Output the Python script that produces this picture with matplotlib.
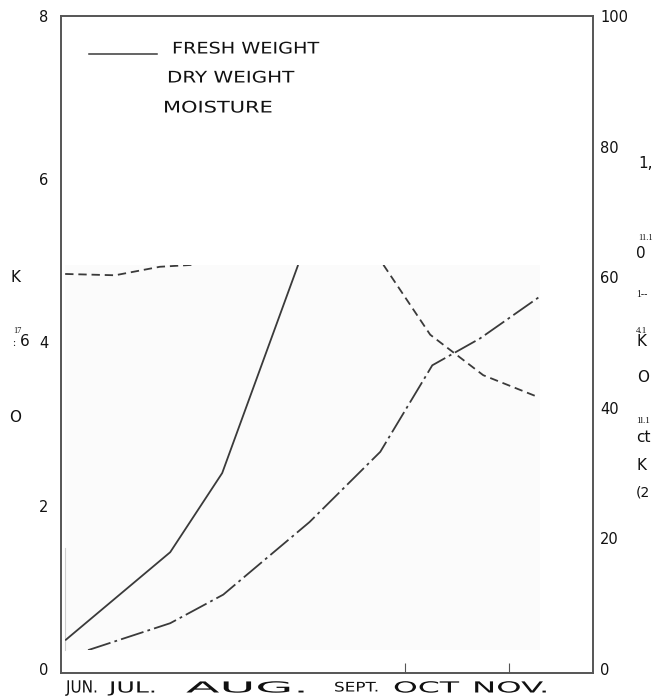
import matplotlib
matplotlib.use("Agg")
import numpy as np
import matplotlib.pyplot as plt
from matplotlib.patches import Rectangle
from matplotlib.patheffects import AbstractPathEffect
from matplotlib.transforms import Affine2D

# ---------------- data (x in months from start of June) ----------------
fresh_x = [0.04, 1.05, 1.55, 2.28]
fresh_y = [0.35, 1.43, 2.40, 4.95]

dry_x = [0.26, 1.05, 1.56, 2.39, 3.07, 3.57, 4.03, 4.59]
dry_y = [0.23, 0.56, 0.91, 1.80, 2.66, 3.72, 4.05, 4.55]

moist_x = [0.04, 0.52, 0.95, 1.27, np.nan, 3.10, 3.55, 4.06, 4.58]
moist_y = [60.5, 60.3, 61.6, 61.9, np.nan, 61.9, 51.2, 45.0, 41.7]

left_ticks = [0, 2, 4, 6, 8]
left_inner_ticks = [2, 4]
right_ticks = [0, 20, 40, 60, 80, 100]
x_inner_ticks = [3.31, 4.31]
months = ["JUN.", "JUL.", "AUG.", "SEPT.", "OCT", "NOV."]
legend_labels = ["FRESH WEIGHT", "DRY WEIGHT", "MOISTURE"]

W, H = 660, 698
plt.rcParams['lines.scale_dashes'] = False
plt.rcParams['font.family'] = ['DejaVu Sans']

LC = '#3a3a3a'
SC = '#555555'


class Stretch(AbstractPathEffect):
    def __init__(self, sx=1.0, sy=1.0):
        super().__init__()
        self.sx, self.sy = sx, sy

    def draw_path(self, renderer, gc, tpath, affine, rgbFace=None):
        renderer.draw_path(gc, tpath, Affine2D().scale(self.sx, self.sy) + affine, rgbFace)


fig = plt.figure(figsize=(W / 100, H / 100), dpi=100)
ax = fig.add_axes([61 / W, (H - 673) / H, (593 - 61) / W, (673 - 16) / H])
ax2 = ax.twinx()

ax.set_xlim(0, 532 / 104)
ax.set_ylim(-0.05, 8.0)
ax2.set_ylim(-0.6, 100)

# scanned image patch
patch = Rectangle((0.0075, 0.035), 0.8925, 0.586, transform=ax.transAxes,
                  facecolor='#fbfbfb', edgecolor='none', zorder=0)
ax.add_patch(patch)
ax.plot([0.0075, 0.0075], [0.035, 0.19], transform=ax.transAxes, color='#cfcfcf', lw=0.8)

clip1 = Rectangle((0.0075, 0.035), 0.8925, 0.586, transform=ax.transAxes)
clip2 = Rectangle((0.0075, 0.035), 0.8925, 0.586, transform=ax2.transAxes)

l1, = ax.plot(fresh_x, fresh_y, color=LC, lw=1.3, solid_capstyle='butt')
l2, = ax.plot(dry_x, dry_y, color=LC, lw=1.3, linestyle=(0, (17, 3, 2, 3)))
l3, = ax2.plot(moist_x, moist_y, color=LC, lw=1.3, linestyle=(0, (6, 3.5)))
l1.set_clip_path(clip1)
l2.set_clip_path(clip1)
l3.set_clip_path(clip2)

for a in (ax, ax2):
    for s in a.spines.values():
        s.set_color(SC)
        s.set_linewidth(1.2)

ax.set_yticks(left_ticks)
ax.set_yticks(left_inner_ticks, minor=True)
ax.tick_params(axis='y', which='major', length=0, pad=9, labelsize=10.5, labelcolor='#111111')
ax.tick_params(axis='y', which='minor', direction='in', length=6, width=1.4, color=SC)
ax.set_xticks(x_inner_ticks)
ax.tick_params(axis='x', which='major', direction='in', length=7, width=0.8, color=SC,
               labelbottom=False)
ax2.set_yticks(right_ticks)
ax2.tick_params(axis='y', length=0, pad=5, labelsize=10.5, labelcolor='#111111')

# legend
ax.plot([0.053, 0.180], [0.942, 0.942], transform=ax.transAxes, color=LC, lw=1.1)

stretch_items = []


def put(s, xl, yc, width=None, size=11, family=None, color='#111111', sy=1.0):
    kw = {}
    if family:
        kw['family'] = family
    t = fig.text(xl / W, 1 - yc / H, s, ha='left', va='center', fontsize=size, color=color, **kw)
    stretch_items.append((t, width, sy))
    return t


# legend texts
put(legend_labels[0], 172, 49, width=148, size=11.5)
put(legend_labels[1], 167, 78, width=128, size=11.5)
put(legend_labels[2], 163, 108, width=110, size=11.5)

# month labels
month_pos = [(66, 32, 10.5, 1.15), (109, 48, 11, 1.0), (186, 123, 11.5, 0.95),
             (334, 45, 9.5, 1.0), (393, 66, 11, 1.0), (472, 77, 11, 1.0)]
for m, (xl, w, sz, sy) in zip(months, month_pos):
    put(m, xl, 688, width=w, size=sz, sy=sy)

# scanned stray marks (OCR residue) along the margins
put("K", 10, 278, size=11)
put("6", 20, 342, size=11)
put("17", 13, 331, size=6, family='Liberation Serif')
put(":", 12, 344, size=8, family='Liberation Serif')
put("O", 9, 418, size=11)

put("1,", 638, 163, size=11)
put("11.1", 638, 238, size=6, family='Liberation Serif')
put("0", 636, 253, size=11)
put("1--", 636, 294, size=7, family='Liberation Serif')
put("4.1", 636, 331, size=6.5, family='Liberation Serif')
put("K", 636, 342, size=11)
put("O", 637, 378, size=11)
put("1l.1", 636, 421, size=6.5, family='Liberation Serif')
put("ct", 636, 437, size=11)
put("K", 636, 466, size=11)
put("(2", 636, 492, size=10)

fig.canvas.draw()
for t, w, sy in stretch_items:
    if w is not None or sy != 1.0:
        sx = 1.0
        if w is not None:
            bb = t.get_window_extent()
            sx = w / bb.width
        t.set_path_effects([Stretch(sx, sy)])

fig.savefig("out.png", dpi=100)
